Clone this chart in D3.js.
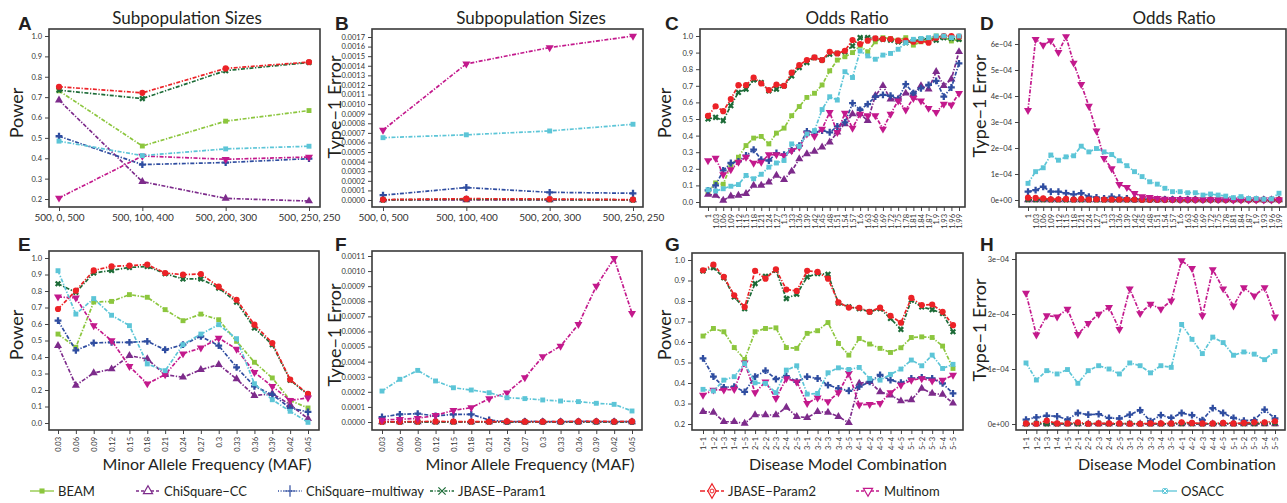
<!DOCTYPE html>
<html>
<head>
<meta charset="utf-8">
<script src="https://cdn.jsdelivr.net/npm/d3@7"></script>
<style>
  body { margin: 0; background: #fff; }
  svg { display: block; }
</style>
</head>
<body>
<svg id="chart" width="1287" height="503"></svg>
<script>
// methods, in drawing order
var methods = ["BEAM", "ChiSquare−CC", "ChiSquare−multiway", "JBASE−Param1", "JBASE−Param2", "Multinom", "OSACC"];
var colors = ["#8cc63e", "#7d2b8b", "#2f4da0", "#1c6b37", "#ec2227", "#c3198c", "#5cc5d7"];
var markerKinds = ["square", "triUp", "plus", "cross", "circle", "triDown", "square"];

// x categories
var subpopCats = ["500, 0, 500", "500, 100, 400", "500, 200, 300", "500, 250, 250"];
var oddsCats = ["1", "1.03", "1.06", "1.09", "1.12", "1.15", "1.18", "1.21", "1.24", "1.27", "1.3", "1.33",
  "1.36", "1.39", "1.42", "1.45", "1.48", "1.51", "1.54", "1.57", "1.6", "1.63", "1.66", "1.69", "1.72",
  "1.75", "1.78", "1.81", "1.84", "1.87", "1.9", "1.93", "1.96", "1.99"];
var mafCats = ["0.03", "0.06", "0.09", "0.12", "0.15", "0.18", "0.21", "0.24", "0.27", "0.3", "0.33", "0.36", "0.39", "0.42", "0.45"];
var modelCats = ["1−1", "1−2", "1−3", "1−4", "1−5", "2−1", "2−2", "2−3", "2−4", "2−5", "3−1", "3−2", "3−3",
  "3−4", "3−5", "4−1", "4−2", "4−3", "4−4", "4−5", "5−1", "5−2", "5−3", "5−4", "5−5"];

// y tick values
var powerTicks = [0.2, 0.3, 0.4, 0.5, 0.6, 0.7, 0.8, 0.9, 1.0];
var powerTicks0 = [0, 0.1, 0.2, 0.3, 0.4, 0.5, 0.6, 0.7, 0.8, 0.9, 1.0];
var errTicksB = [0, 0.0001, 0.0002, 0.0003, 0.0004, 0.0005, 0.0006, 0.0007, 0.0008, 0.0009, 0.0010,
  0.0011, 0.0012, 0.0013, 0.0014, 0.0015, 0.0016, 0.0017];
var errTicksD = [0, 1e-4, 2e-4, 3e-4, 4e-4, 5e-4, 6e-4];
var errTicksF = [0, 0.0001, 0.0002, 0.0003, 0.0004, 0.0005, 0.0006, 0.0007, 0.0008, 0.0009, 0.0010, 0.0011];
var errTicksH = [0, 1e-4, 2e-4, 3e-4];

// series per panel, one row per method (same order as methods)
var powerSubpop = [
  [0.731, 0.46, 0.582, 0.634],
  [0.685, 0.285, 0.203, 0.19],
  [0.508, 0.369, 0.379, 0.398],
  [0.734, 0.693, 0.83, 0.87],
  [0.751, 0.721, 0.841, 0.872],
  [0.205, 0.411, 0.395, 0.406],
  [0.484, 0.413, 0.446, 0.459]
];
var errSubpop = [
  [0.000001, 0.000002, 0.000001, 0.000001],
  [0.0, 0.000001, 0.0, 0.0],
  [0.00005, 0.00013, 0.00008, 0.00007],
  [0.000002, 0.00001, 0.000006, 0.000002],
  [0.000004, 0.000014, 0.00001, 0.000004],
  [0.00073, 0.00142, 0.00159, 0.00171],
  [0.00065, 0.00068, 0.00072, 0.00079]
];
var powerOdds = [
  [0.06, 0.115, 0.107, 0.22, 0.27, 0.34, 0.385, 0.395, 0.35, 0.415, 0.445, 0.52, 0.575, 0.63, 0.655, 0.705, 0.79,
   0.855, 0.875, 0.9, 0.94, 0.905, 0.965, 0.99, 0.985, 0.975, 0.99, 0.945, 0.965, 0.975, 1.0, 0.995, 0.97, 0.98],
  [0.045, 0.04, 0.01, 0.035, 0.04, 0.05, 0.1, 0.1, 0.12, 0.16, 0.135, 0.185, 0.26, 0.29, 0.305, 0.33, 0.36,
   0.42, 0.47, 0.53, 0.53, 0.49, 0.64, 0.7, 0.62, 0.62, 0.655, 0.65, 0.7, 0.68, 0.785, 0.7, 0.74, 0.905],
  [0.07, 0.1, 0.19, 0.235, 0.245, 0.28, 0.315, 0.255, 0.25, 0.295, 0.285, 0.31, 0.34, 0.425, 0.42, 0.43, 0.42,
   0.455, 0.48, 0.595, 0.555, 0.59, 0.635, 0.645, 0.64, 0.62, 0.71, 0.655, 0.685, 0.705, 0.73, 0.635, 0.69, 0.835],
  [0.5, 0.51, 0.49, 0.58, 0.66, 0.68, 0.735, 0.72, 0.67, 0.68, 0.7, 0.76, 0.81, 0.84, 0.87, 0.855, 0.89,
   0.895, 0.905, 0.94, 0.99, 0.99, 0.985, 0.98, 0.975, 0.965, 0.96, 0.97, 0.98, 0.985, 0.975, 0.99, 0.985, 0.98],
  [0.519, 0.577, 0.547, 0.62, 0.704, 0.704, 0.75, 0.714, 0.674, 0.708, 0.7, 0.779, 0.825, 0.855, 0.871, 0.855, 0.905,
   0.895, 0.911, 0.976, 0.952, 0.972, 0.986, 0.982, 0.982, 0.972, 0.972, 0.966, 0.97, 0.96, 0.99, 1.0, 1.0, 0.996],
  [0.25, 0.265, 0.165, 0.195, 0.24, 0.27, 0.235, 0.24, 0.285, 0.285, 0.28, 0.31, 0.33, 0.41, 0.395, 0.44, 0.54,
   0.42, 0.535, 0.445, 0.53, 0.52, 0.52, 0.44, 0.53, 0.61, 0.555, 0.625, 0.61, 0.565, 0.54, 0.59, 0.585, 0.655],
  [0.074, 0.066, 0.08, 0.095, 0.105, 0.16, 0.14, 0.167, 0.21, 0.235, 0.25, 0.35, 0.335, 0.41, 0.43, 0.557, 0.634,
   0.614, 0.785, 0.75, 0.91, 0.88, 0.86, 0.885, 0.895, 0.92, 0.96, 0.98, 0.985, 0.99, 1.0, 1.0, 0.99, 1.0]
];
var errOdds = [
  [0.2e-6, 0.2e-6, 0.1e-6, 0.1e-6, 0.2e-6, 0.1e-6, 0.1e-6, 0.1e-6, 0.1e-6, 0.1e-6, 0.1e-6, 0.1e-6, 0.1e-6, 0.1e-6,
   0.1e-6, 0.1e-6, 0.1e-6, 0.1e-6, 0.1e-6, 0.1e-6, 0.1e-6, 0.1e-6, 0.1e-6, 0.1e-6, 0.1e-6, 0.1e-6, 0.1e-6, 0.1e-6,
   0.1e-6, 0.1e-6, 0.1e-6, 0.1e-6, 0.1e-6, 0.1e-6],
  [0.1e-6, 0.1e-6, 0.1e-6, 0.1e-6, 0.1e-6, 0.1e-6, 0.1e-6, 0.1e-6, 0.1e-6, 0.1e-6, 0.1e-6, 0.1e-6, 0.1e-6, 0.1e-6,
   0.1e-6, 0.1e-6, 0.1e-6, 0.1e-6, 0.1e-6, 0.1e-6, 0.1e-6, 0.1e-6, 0.1e-6, 0.1e-6, 0.1e-6, 0.1e-6, 0.1e-6, 0.1e-6,
   0.1e-6, 0.1e-6, 0.1e-6, 0.1e-6, 0.1e-6, 0.1e-6],
  [3.2e-5, 3.8e-5, 5.1e-5, 3.2e-5, 3.2e-5, 2.6e-5, 2.2e-5, 2.6e-5, 1.3e-5, 1.0e-5, 0.6e-5, 1.3e-5, 0.9e-5, 0.6e-5,
   0.3e-5, 0.3e-5, 0.2e-5, 0.2e-5, 0.2e-5, 0.2e-5, 0.1e-5, 0.1e-5, 0.1e-5, 0.1e-5, 0.1e-5, 0.1e-5, 0.1e-5, 0.05e-5,
   0.05e-5, 0.05e-5, 0.05e-5, 0.05e-5, 0.05e-5, 0.05e-5],
  [2e-6, 2e-6, 2e-6, 1e-6, 1e-6, 1e-6, 1e-6, 1e-6, 1e-6, 1e-6, 1e-6, 1e-6, 1e-6, 1e-6, 1e-6, 1e-6, 1e-6,
   1e-6, 1e-6, 1e-6, 1e-6, 1e-6, 1e-6, 1e-6, 1e-6, 1e-6, 1e-6, 1e-6, 1e-6, 1e-6, 1e-6, 1e-6, 1e-6, 1e-6],
  [9e-6, 8e-6, 6e-6, 3e-6, 3e-6, 4e-6, 2e-6, 4e-6, 2e-6, 3e-6, 2e-6, 2e-6, 2e-6, 2e-6, 2e-6, 1e-6, 1e-6,
   1e-6, 1e-6, 1e-6, 1e-6, 1e-6, 1e-6, 1e-6, 1e-6, 1e-6, 1e-6, 1e-6, 1e-6, 1e-6, 1e-6, 1e-6, 1e-6, 1e-6],
  [3.45e-4, 6.18e-4, 5.96e-4, 6.13e-4, 5.68e-4, 6.29e-4, 5.27e-4, 4.45e-4, 3.61e-4, 2.66e-4, 1.6e-4, 1.21e-4,
   0.6e-4, 0.49e-4, 0.26e-4, 0.13e-4, 0.1e-4, 0.06e-4, 0.04e-4, 0.03e-4, 0.03e-4, 0.03e-4, 0.02e-4, 0.02e-4,
   0.02e-4, 0.02e-4, 0.02e-4, 0.01e-4, 0.01e-4, 0.01e-4, 0.005e-4, 0.01e-4, 0.005e-4, 0.01e-4],
  [0.64e-4, 1.09e-4, 1.24e-4, 1.73e-4, 1.53e-4, 1.66e-4, 1.7e-4, 2.07e-4, 1.85e-4, 1.98e-4, 1.85e-4, 1.75e-4,
   1.51e-4, 1.32e-4, 1.09e-4, 0.9e-4, 0.7e-4, 0.61e-4, 0.45e-4, 0.32e-4, 0.32e-4, 0.28e-4, 0.28e-4, 0.19e-4,
   0.23e-4, 0.19e-4, 0.15e-4, 0.09e-4, 0.13e-4, 0.06e-4, 0.06e-4, 0.03e-4, 0.04e-4, 0.26e-4]
];
var powerMaf = [
  [0.539, 0.459, 0.733, 0.737, 0.778, 0.762, 0.687, 0.62, 0.66, 0.626, 0.495, 0.368, 0.273, 0.137, 0.091],
  [0.469, 0.228, 0.303, 0.327, 0.408, 0.388, 0.293, 0.277, 0.323, 0.354, 0.267, 0.166, 0.178, 0.111, 0.026],
  [0.62, 0.44, 0.485, 0.489, 0.489, 0.495, 0.444, 0.475, 0.525, 0.469, 0.337, 0.222, 0.172, 0.091, 0.067],
  [0.844, 0.792, 0.909, 0.925, 0.943, 0.949, 0.905, 0.873, 0.873, 0.818, 0.733, 0.576, 0.475, 0.26, 0.172],
  [0.691, 0.802, 0.925, 0.949, 0.954, 0.96, 0.909, 0.899, 0.903, 0.826, 0.747, 0.596, 0.485, 0.263, 0.176],
  [0.764, 0.758, 0.59, 0.499, 0.343, 0.238, 0.293, 0.42, 0.455, 0.515, 0.448, 0.307, 0.222, 0.137, 0.152],
  [0.923, 0.66, 0.754, 0.653, 0.59, 0.358, 0.317, 0.475, 0.539, 0.596, 0.511, 0.238, 0.141, 0.071, 0.004]
];
var errMaf = [
  [0.5e-6, 0.5e-6, 0.5e-6, 0.5e-6, 0.5e-6, 0.5e-6, 0.5e-6, 0.5e-6, 0.5e-6, 0.5e-6, 0.5e-6, 0.5e-6, 0.5e-6, 0.5e-6, 0.5e-6],
  [0.2e-6, 0.2e-6, 0.2e-6, 0.2e-6, 0.2e-6, 0.2e-6, 0.2e-6, 0.2e-6, 0.2e-6, 0.2e-6, 0.2e-6, 0.2e-6, 0.2e-6, 0.2e-6, 0.2e-6],
  [0.000033, 0.000051, 0.000055, 0.00004, 0.000051, 0.000051, 0.000013, 0.000002, 0.000004, 0.000003, 0.000002,
   0.000004, 0.000004, 0.000002, 0.000003],
  [1e-6, 1e-6, 1e-6, 1e-6, 1e-6, 1e-6, 1e-6, 1e-6, 1e-6, 1e-6, 1e-6, 1e-6, 1e-6, 1e-6, 1e-6],
  [0.000002, 0.000001, 0.000003, 0.000004, 0.000003, 0.000003, 0.000002, 0.000004, 0.000002, 0.000002, 0.000003,
   0.000004, 0.000005, 0.000003, 0.000004],
  [0.000013, 0.000018, 0.000024, 0.000044, 0.000077, 0.000095, 0.000155, 0.000194, 0.000294, 0.000433, 0.000503,
   0.000647, 0.0009, 0.001084, 0.00072],
  [0.000205, 0.000283, 0.000342, 0.000272, 0.000227, 0.000212, 0.000194, 0.000161, 0.000155, 0.000146, 0.000139,
   0.000135, 0.000124, 0.000117, 0.000073]
];
var powerModel = [
  [0.629, 0.666, 0.65, 0.573, 0.515, 0.65, 0.666, 0.669, 0.573, 0.569, 0.642, 0.655, 0.695, 0.593, 0.536, 0.617,
   0.59, 0.569, 0.549, 0.572, 0.622, 0.625, 0.622, 0.58, 0.471],
  [0.26, 0.257, 0.211, 0.211, 0.203, 0.244, 0.244, 0.244, 0.281, 0.236, 0.231, 0.26, 0.257, 0.236, 0.206, 0.398,
   0.406, 0.357, 0.341, 0.312, 0.317, 0.374, 0.349, 0.344, 0.301],
  [0.52, 0.431, 0.379, 0.382, 0.357, 0.431, 0.46, 0.419, 0.434, 0.406, 0.431, 0.422, 0.39, 0.374, 0.362, 0.382,
   0.406, 0.439, 0.414, 0.401, 0.422, 0.427, 0.422, 0.398, 0.349],
  [0.947, 0.963, 0.914, 0.82, 0.763, 0.885, 0.92, 0.95, 0.812, 0.833, 0.917, 0.934, 0.93, 0.79, 0.771, 0.763,
   0.747, 0.763, 0.715, 0.661, 0.804, 0.771, 0.758, 0.739, 0.65],
  [0.95, 0.978, 0.918, 0.828, 0.771, 0.947, 0.909, 0.955, 0.856, 0.849, 0.947, 0.942, 0.909, 0.793, 0.768, 0.767,
   0.747, 0.768, 0.728, 0.694, 0.815, 0.78, 0.783, 0.747, 0.682],
  [0.341, 0.366, 0.366, 0.369, 0.499, 0.353, 0.406, 0.325, 0.422, 0.406, 0.301, 0.328, 0.309, 0.353, 0.447, 0.293,
   0.296, 0.301, 0.353, 0.39, 0.414, 0.422, 0.411, 0.414, 0.439],
  [0.369, 0.361, 0.414, 0.431, 0.495, 0.401, 0.398, 0.353, 0.463, 0.484, 0.346, 0.349, 0.45, 0.474, 0.466, 0.476,
   0.422, 0.414, 0.442, 0.468, 0.512, 0.484, 0.536, 0.471, 0.491]
];
var errModel = [
  [0.1e-6, 0.1e-6, 0.1e-6, 0.1e-6, 0.1e-6, 0.1e-6, 0.1e-6, 0.1e-6, 0.1e-6, 0.1e-6, 0.1e-6, 0.1e-6, 0.1e-6,
   0.1e-6, 0.1e-6, 0.1e-6, 0.1e-6, 0.1e-6, 0.1e-6, 0.1e-6, 0.1e-6, 0.1e-6, 0.1e-6, 0.1e-6, 0.1e-6],
  [0.3e-6, 0.3e-6, 0.3e-6, 0.3e-6, 0.3e-6, 0.3e-6, 0.3e-6, 0.3e-6, 0.3e-6, 0.3e-6, 0.3e-6, 0.3e-6, 0.3e-6,
   0.3e-6, 0.3e-6, 0.3e-6, 0.3e-6, 0.3e-6, 0.3e-6, 0.3e-6, 0.3e-6, 0.3e-6, 0.3e-6, 0.3e-6, 0.3e-6],
  [0.08e-4, 0.12e-4, 0.15e-4, 0.14e-4, 0.08e-4, 0.2e-4, 0.17e-4, 0.18e-4, 0.11e-4, 0.1e-4, 0.17e-4, 0.25e-4, 0.05e-4,
   0.16e-4, 0.11e-4, 0.2e-4, 0.16e-4, 0.07e-4, 0.29e-4, 0.2e-4, 0.11e-4, 0.06e-4, 0.07e-4, 0.26e-4, 0.1e-4],
  [0.5e-6, 1e-6, 0.5e-6, 0.5e-6, 1e-6, 0.5e-6, 0.5e-6, 1e-6, 0.5e-6, 0.5e-6, 1e-6, 0.5e-6, 0.5e-6, 0.5e-6,
   0.5e-6, 1e-6, 1e-6, 0.5e-6, 0.5e-6, 1e-6, 0.5e-6, 1e-6, 1e-6, 1.5e-6, 2e-6],
  [0.01e-4, 0.005e-4, 0.06e-4, 0.01e-4, 0.01e-4, 0.03e-4, 0.005e-4, 0.01e-4, 0.01e-4, 0.01e-4, 0.005e-4, 0.005e-4,
   0.01e-4, 0.01e-4, 0.01e-4, 0.03e-4, 0.02e-4, 0.01e-4, 0.01e-4, 0.02e-4, 0.01e-4, 0.02e-4, 0.03e-4, 0.03e-4, 0.05e-4],
  [2.38e-4, 1.62e-4, 1.97e-4, 1.95e-4, 2.09e-4, 1.63e-4, 1.83e-4, 2.0e-4, 2.12e-4, 1.72e-4, 2.46e-4, 2.01e-4, 2.18e-4,
   2.09e-4, 2.24e-4, 2.97e-4, 2.83e-4, 1.97e-4, 2.81e-4, 2.46e-4, 2.15e-4, 2.48e-4, 2.33e-4, 2.48e-4, 1.95e-4],
  [1.11e-4, 0.8e-4, 0.97e-4, 0.91e-4, 0.99e-4, 0.74e-4, 0.97e-4, 1.06e-4, 1.0e-4, 0.91e-4, 1.11e-4, 1.06e-4, 0.93e-4,
   1.06e-4, 1.03e-4, 1.81e-4, 1.54e-4, 1.28e-4, 1.58e-4, 1.48e-4, 1.25e-4, 1.31e-4, 1.27e-4, 1.17e-4, 1.32e-4]
];

var FONT = "Lato, 'Open Sans', sans-serif";
var svg = d3.select("#chart");

var fmt1 = d3.format(".1f");
var fmt4 = d3.format(".4f");
var fmtSci = function(v) { return v === 0 ? "0e+00" : Math.round(v / 1e-4) + "e\u221204"; };

var panels = [
  { letter: "A", cats: subpopCats, data: powerSubpop, box: [49, 29, 320, 207], xr: [59, 309], ydom: [0.2, 1.0], yr: [199, 36],
    yticks: powerTicks, yfmt: fmt1, rot: false, title: "Subpopulation Sizes", tx: 187, ylab: "Power", ly: 113, lx: 17 },
  { letter: "B", cats: subpopCats, data: errSubpop, box: [372, 29, 643, 207], xr: [383, 633], ydom: [0, 0.0017], yr: [200, 37],
    yticks: errTicksB, yfmt: fmt4, rot: false, title: "Subpopulation Sizes", tx: 531, ylab: "Type\u22121 Error", ly: 107, lx: 335 },
  { letter: "C", cats: oddsCats, data: powerOdds, box: [700, 29, 965, 207], xr: [708, 959], ydom: [0, 1], yr: [202, 36],
    yticks: powerTicks0, yfmt: fmt1, rot: true, title: "Odds Ratio", tx: 847, ylab: "Power", ly: 113, lx: 665 },
  { letter: "D", cats: oddsCats, data: errOdds, box: [1019, 29, 1286, 207], xr: [1028, 1279], ydom: [0, 6e-4], yr: [200, 44],
    yticks: errTicksD, yfmt: fmtSci, rot: true, title: "Odds Ratio", tx: 1174, ylab: "Type\u22121 Error", ly: 106, lx: 980 },
  { letter: "E", cats: mafCats, data: powerMaf, box: [49, 251, 319, 430], xr: [58, 308], ydom: [0, 1], yr: [423, 258],
    yticks: powerTicks0, yfmt: fmt1, rot: true, xlab: "Minor Allele Frequency (MAF)", xx: 207, ylab: "Power", ly: 335, lx: 17 },
  { letter: "F", cats: mafCats, data: errMaf, box: [372, 251, 642, 430], xr: [382, 632], ydom: [0, 0.0011], yr: [422, 256],
    yticks: errTicksF, yfmt: fmt4, rot: true, xlab: "Minor Allele Frequency (MAF)", xx: 530, ylab: "Type\u22121 Error", ly: 335, lx: 335 },
  { letter: "G", cats: modelCats, data: powerModel, box: [692, 253, 963, 430], xr: [703, 953], ydom: [0.2, 1], yr: [424, 260],
    yticks: powerTicks, yfmt: fmt1, rot: true, xlab: "Disease Model Combination", xx: 848, ylab: "Power", ly: 335, lx: 665 },
  { letter: "H", cats: modelCats, data: errModel, box: [1016, 253, 1285, 430], xr: [1026, 1275], ydom: [0, 3e-4], yr: [424, 259],
    yticks: errTicksH, yfmt: fmtSci, rot: true, xlab: "Disease Model Combination", xx: 1177, ylab: "Type\u22121 Error", ly: 330, lx: 980 }
];

function markerPath(kind) {
  if (kind === "square") return d3.symbol(d3.symbolSquare, 24)();
  if (kind === "triUp") return d3.symbol(d3.symbolTriangle, 28)();
  if (kind === "triDown") return d3.symbol(d3.symbolTriangle, 28)();
  if (kind === "plus") return d3.symbol(d3.symbolCross, 26)();
  if (kind === "cross") return d3.symbol(d3.symbolCross, 24)();
  return d3.symbol(d3.symbolCircle, 30)();
}
function markerRot(kind) {
  if (kind === "triDown") return " rotate(180)";
  if (kind === "cross") return " rotate(45)";
  return "";
}

function drawPanel(p) {
  var g = svg.append("g");
  var x = d3.scalePoint().domain(p.cats).range(p.xr);
  var y = d3.scaleLinear().domain(p.ydom).range(p.yr);
  var b = p.box;

  // x axis
  var xa = g.append("g")
    .attr("transform", "translate(0," + b[3] + ")")
    .call(d3.axisBottom(x).tickSize(4).tickPadding(3));
  xa.select(".domain").remove();
  xa.selectAll("line").attr("stroke", "#444");
  xa.selectAll("text")
    .style("font-family", FONT)
    .style("fill", "#333")
    .style("font-size", p.rot ? "7.5px" : "10px");
  if (p.rot) {
    xa.selectAll("text")
      .attr("transform", "rotate(-90)")
      .attr("text-anchor", "end")
      .attr("x", -7)
      .attr("y", 0)
      .attr("dy", "0.35em");
  }

  // y axis
  var ya = g.append("g")
    .attr("transform", "translate(" + b[0] + ",0)")
    .call(d3.axisLeft(y).tickValues(p.yticks).tickFormat(p.yfmt).tickSize(4).tickPadding(3));
  ya.select(".domain").remove();
  ya.selectAll("line").attr("stroke", "#444");
  ya.selectAll("text")
    .style("font-family", FONT)
    .style("fill", "#333")
    .style("font-size", "7.5px");

  // frame
  g.append("rect")
    .attr("x", b[0]).attr("y", b[1])
    .attr("width", b[2] - b[0]).attr("height", b[3] - b[1])
    .attr("fill", "none")
    .attr("stroke", "#3a3a3a")
    .attr("stroke-width", 1.6);

  // series
  p.data.forEach(function(vals, i) {
    var line = d3.line()
      .x(function(d, j) { return x(p.cats[j]); })
      .y(function(d) { return y(d); });
    g.append("path")
      .datum(vals)
      .attr("d", line)
      .attr("fill", "none")
      .attr("stroke", colors[i])
      .attr("stroke-width", 1.7)
      .attr("stroke-dasharray", "4,1.6,1.3,1.6");
    g.selectAll(".m" + i)
      .data(vals)
      .enter().append("path")
      .attr("class", "m" + i)
      .attr("d", markerPath(markerKinds[i]))
      .attr("transform", function(d, j) {
        return "translate(" + x(p.cats[j]) + "," + y(d) + ")" + markerRot(markerKinds[i]);
      })
      .attr("fill", colors[i]);
  });

  // labels
  g.append("text")
    .attr("x", p.letter === "A" || p.letter === "E" ? 18 : p.lx)
    .attr("y", p.letter < "E" ? 30 : 251)
    .style("font-family", "'Liberation Sans', Arial, sans-serif")
    .style("font-weight", "bold")
    .style("font-size", "19px")
    .style("fill", "#231f20")
    .text(p.letter);

  g.append("text")
    .attr("transform", "translate(" + (p.lx + 6) + "," + p.ly + ") rotate(-90)")
    .attr("text-anchor", "middle")
    .style("font-family", FONT)
    .style("font-size", "18px")
    .style("fill", "#231f20")
    .text(p.ylab);

  if (p.title) {
    g.append("text")
      .attr("x", p.tx).attr("y", 24)
      .attr("text-anchor", "middle")
      .style("font-family", FONT)
      .style("font-size", "17px")
      .style("fill", "#231f20")
      .text(p.title);
  }
  if (p.xlab) {
    g.append("text")
      .attr("x", p.xx).attr("y", 470)
      .attr("text-anchor", "middle")
      .style("font-family", FONT)
      .style("font-size", "16px")
      .style("fill", "#231f20")
      .text(p.xlab);
  }
}

panels.forEach(drawPanel);

// legend
var legendX = [42, 148, 290, 442, 712, 868, 1165];
var legendDash = [null, "3,2", "1,1.6", "3,1.6,1,1.6", "5,2", "3,2", null];
var leg = svg.append("g").attr("transform", "translate(0,491)");
methods.forEach(function(m, i) {
  var cx = legendX[i];
  leg.append("line")
    .attr("x1", cx - 12).attr("x2", cx + 12)
    .attr("y1", 0).attr("y2", 0)
    .attr("stroke", colors[i])
    .attr("stroke-width", 1.3)
    .attr("stroke-dasharray", legendDash[i]);
  var kind = markerKinds[i];
  var mk = leg.append("path")
    .attr("transform", "translate(" + cx + ",0)" + markerRot(kind));
  if (kind === "square" && i === 0) {
    mk.attr("d", d3.symbol(d3.symbolSquare, 26)()).attr("fill", colors[i]);
  } else if (kind === "square") {
    mk.attr("d", d3.symbol(d3.symbolSquare, 32)()).attr("fill", colors[i]);
    leg.append("path")
      .attr("transform", "translate(" + cx + ",0)")
      .attr("d", d3.symbol(d3.symbolX, 20)())
      .attr("fill", "none").attr("stroke", "#fff").attr("stroke-width", 1);
  } else if (kind === "plus") {
    mk.attr("d", d3.symbol(d3.symbolPlus, 44)()).attr("fill", "none").attr("stroke", colors[i]).attr("stroke-width", 1.2);
  } else if (kind === "cross") {
    mk.attr("d", d3.symbol(d3.symbolPlus, 36)()).attr("fill", "none").attr("stroke", colors[i]).attr("stroke-width", 1.2);
  } else if (kind === "circle") {
    mk.attr("d", d3.symbol(d3.symbolDiamond, 60)()).attr("fill", "#fff").attr("stroke", colors[i]).attr("stroke-width", 1.2);
    leg.append("path")
      .attr("transform", "translate(" + cx + ",0)")
      .attr("d", d3.symbol(d3.symbolCircle, 12)())
      .attr("fill", "none").attr("stroke", colors[i]).attr("stroke-width", 1);
  } else {
    mk.attr("d", d3.symbol(d3.symbolTriangle, 36)()).attr("fill", "#fff").attr("stroke", colors[i]).attr("stroke-width", 1.2);
  }
  leg.append("text")
    .attr("x", cx + 16)
    .attr("y", 0)
    .attr("dy", "0.35em")
    .style("font-family", FONT)
    .style("font-size", "13px")
    .style("fill", "#231f20")
    .text(m);
});
</script>
</body>
</html>
